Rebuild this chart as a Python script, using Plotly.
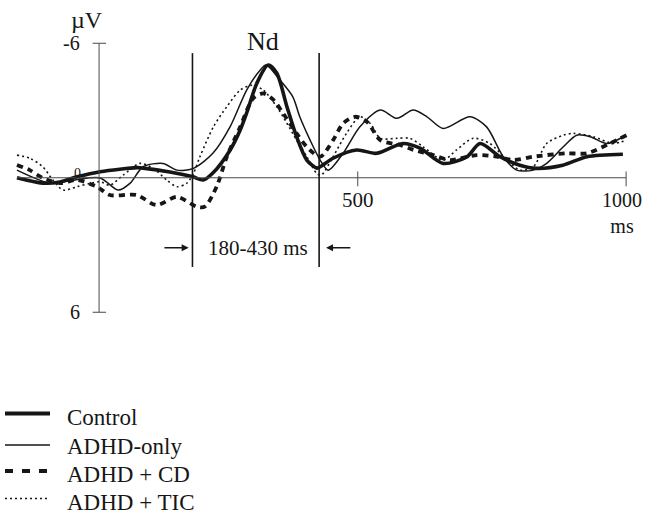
import plotly.graph_objects as go

# ---- data (time in ms, amplitude in µV; negative plotted upward) ----
series_names = ["Control", "ADHD-only", "ADHD + CD", "ADHD + TIC"]

control_t = [-135, -87, -55, -23, 20, 89, 100, 150, 193, 212, 230, 262, 281, 293, 312, 333, 349,
             368, 386, 405, 424, 430, 454, 498, 535, 584, 616, 659, 703, 728, 765, 802, 833, 882, 927, 994]
control_v = [0.00, 0.24, 0.19, -0.04, -0.27, -0.45, -0.43, -0.26, -0.04, 0.10, -0.21, -1.23, -2.13, -2.89,
             -4.22, -5.03, -4.67, -3.17, -1.83, -0.79, -0.43, -0.49, -0.87, -1.24, -1.09, -1.53, -1.32,
             -0.64, -0.93, -1.53, -0.94, -0.56, -0.42, -0.56, -0.94, -1.05]

adhd_t = [-135, -73, -27, 20, 54, 76, 100, 137, 163, 194, 230, 262, 293, 318, 329, 355, 379, 392, 411,
          430, 445, 473, 504, 542, 573, 603, 629, 659, 709, 740, 771, 796, 827, 852, 883, 908, 933, 964, 995]
adhd_v = [-0.34, 0.24, 0.10, 0.01, 0.55, 0.24, -0.49, -0.64, -0.34, -0.42, -1.09, -2.27, -3.91, -4.80,
          -5.03, -4.36, -3.61, -2.72, -1.69, -0.79, -0.34, -1.10, -2.27, -3.02, -2.65, -3.02, -2.72,
          -2.20, -2.72, -2.27, -0.94, -0.34, -0.34, -0.64, -1.38, -1.90, -1.83, -1.53, -1.83]

cd_t = [-135, -111, -87, -55, -23, 14, 38, 88, 125, 163, 200, 215, 237, 256, 281, 305, 324, 343, 361,
        386, 405, 430, 454, 473, 495, 517, 542, 579, 604, 641, 672, 722, 759, 790, 827, 889, 927, 970, 1001]
cd_v = [-0.57, -0.34, 0.01, 0.24, 0.10, 0.40, 0.77, 0.77, 1.22, 0.85, 1.29, 1.29, 0.40, -0.94, -2.27,
        -3.54, -3.76, -3.47, -2.87, -1.98, -1.38, -0.94, -1.68, -2.43, -2.72, -2.50, -1.68, -1.46,
        -1.24, -1.01, -0.79, -1.01, -0.94, -0.79, -0.94, -1.09, -1.09, -1.53, -1.90]

tic_t = [-135, -111, -87, -68, -49, -23, 1, 20, 38, 63, 94, 119, 144, 163, 181, 194, 206, 231, 256, 281,
         303, 324, 349, 368, 386, 405, 424, 432, 454, 479, 504, 523, 542, 573, 597, 622, 659, 684, 715,
         746, 778, 802, 827, 852, 883, 902, 939, 976, 1001]
tic_v = [-1.01, -0.87, -0.49, 0.10, 0.55, 0.40, 0.25, 0.18, 0.33, -0.12, -0.64, -0.42, 0.10, 0.40, 0.25,
         -0.20, -0.94, -2.27, -3.17, -3.91, -4.13, -3.91, -3.17, -2.43, -1.68, -0.94, -0.18, -0.12,
         -0.94, -1.98, -2.72, -2.43, -1.76, -1.76, -1.76, -1.38, -0.79, -1.24, -1.76, -1.53, -0.79,
         -0.34, -0.49, -1.53, -1.90, -1.98, -1.83, -1.53, -1.68]

x_tick_vals = [500, 1000]
x_tick_text = ["500", "1000<br>ms"]
y_tick_vals = [-6, 6]
y_tick_text = ["-6", "6"]
window = [192, 428]          # Nd window lines as drawn
window_label = "180-430 ms"

# ---- styling ----
INK = "#161616"
AX = "#4a4a4a"
FONT = "Liberation Serif, Times New Roman, serif"
Y_AXIS_X = 18

styles = [
    dict(width=3.6, dash="solid"),
    dict(width=1.5, dash="solid"),
    dict(width=3.8, dash="6px,5px"),
    dict(width=1.6, dash="2px,3px"),
]
data = [(control_t, control_v), (adhd_t, adhd_v), (cd_t, cd_v), (tic_t, tic_v)]

fig = go.Figure()
for name, (t, v), st in zip(series_names, data, styles):
    fig.add_trace(go.Scatter(x=t, y=v, mode="lines", name=name,
                             line=dict(color=INK, width=st["width"], dash=st["dash"],
                                       shape="spline", smoothing=0.8),
                             showlegend=False, hoverinfo="skip"))

shapes = []
# zero line (x axis)
shapes.append(dict(type="line", xref="x", yref="y", x0=-135, x1=1000, y0=0, y1=0,
                   line=dict(color=AX, width=1)))
# y axis
shapes.append(dict(type="line", xref="x", yref="y", x0=Y_AXIS_X, x1=Y_AXIS_X, y0=-6, y1=6,
                   line=dict(color=AX, width=1)))
for yv in y_tick_vals:
    shapes.append(dict(type="line", xref="x", yref="y", x0=6, x1=31, y0=yv, y1=yv,
                       line=dict(color=AX, width=1)))
for xv in x_tick_vals:
    shapes.append(dict(type="line", xref="x", yref="y", x0=xv, x1=xv, y0=-0.28, y1=0.38,
                       line=dict(color=AX, width=1)))
# Nd window lines
for xv in window:
    shapes.append(dict(type="line", xref="x", yref="y", x0=xv, x1=xv, y0=-5.56, y1=3.98,
                       line=dict(color=INK, width=1.6)))

W, H = 656, 516
# legend (manual, paper coords)
leg_rows = [413.5, 445.0, 471.0, 498.5]
leg_text_rows = [417.5, 446.5, 474.5, 502.5]
leg_styles = [dict(width=4, dash="solid"), dict(width=1.5, dash="solid"),
              dict(width=4, dash="8px,9px"), dict(width=1.5, dash="2px,3px")]
for yy, st in zip(leg_rows, leg_styles):
    shapes.append(dict(type="line", xref="paper", yref="paper", x0=5 / W, x1=50 / W,
                       y0=1 - yy / H, y1=1 - yy / H,
                       line=dict(color=INK, width=st["width"], dash=st["dash"])))

ann = []
def txt(x, y, s, size, xanchor="center", xref="x", yref="y", yanchor="middle"):
    ann.append(dict(x=x, y=y, xref=xref, yref=yref, text=s, showarrow=False,
                    xanchor=xanchor, yanchor=yanchor,
                    font=dict(family=FONT, size=size, color=INK)))

txt(-4.5, -7.05, "µV", 24)
for yv, s in zip(y_tick_vals, y_tick_text):
    txt(-13, yv, s, 20, xanchor="right")
txt(-23, -0.2, "0", 14)
txt(323, -6.1, "Nd", 26)
txt(314, 3.14, window_label, 21)
txt(x_tick_vals[0], 0.97, x_tick_text[0], 21)
txt(x_tick_vals[1] - 8, 0.42, x_tick_text[1], 20, yanchor="top")
for yy, name in zip(leg_text_rows, series_names):
    txt(65 / W, 1 - yy / H, name, 23, xanchor="left", xref="paper", yref="paper")

# arrows
ann.append(dict(x=185, y=3.12, ax=137, ay=3.12, xref="x", yref="y", axref="x", ayref="y",
                text="", showarrow=True, arrowhead=2, arrowsize=1, arrowwidth=1.4, arrowcolor=INK))
ann.append(dict(x=441, y=3.12, ax=489, ay=3.12, xref="x", yref="y", axref="x", ayref="y",
                text="", showarrow=True, arrowhead=2, arrowsize=1, arrowwidth=1.4, arrowcolor=INK))

fig.update_layout(
    width=W, height=H,
    margin=dict(l=0, r=0, t=0, b=0, pad=0),
    paper_bgcolor="white", plot_bgcolor="white",
    xaxis=dict(visible=False, range=[-166.6, 1055.7], fixedrange=True),
    yaxis=dict(visible=False, range=[15.09, -7.93], fixedrange=True),
    shapes=shapes, annotations=ann, showlegend=False,
)

fig.write_html("out.html")
